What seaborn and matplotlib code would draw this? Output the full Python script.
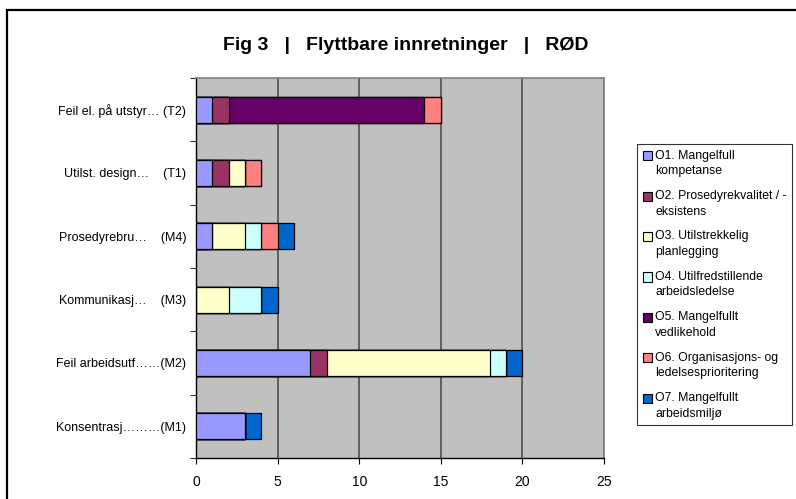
import matplotlib
matplotlib.use("Agg")
import matplotlib.pyplot as plt
from matplotlib.patches import Patch, Rectangle
from matplotlib.legend_handler import HandlerPatch
import numpy as np
import pandas as pd
import seaborn as sns

# Kategorier (ovenfra og ned) og serier
categories = ["Feil el. på utstyr… (T2)", "Utilst. design…    (T1)", "Prosedyrebru…    (M4)",
              "Kommunikasj…    (M3)", "Feil arbeidsutf……(M2)", "Konsentrasj………(M1)"]
series = ["O1. Mangelfull\nkompetanse", "O2. Prosedyrekvalitet / -\neksistens",
          "O3. Utilstrekkelig\nplanlegging", "O4. Utilfredstillende\narbeidsledelse",
          "O5. Mangelfullt\nvedlikehold", "O6. Organisasjons- og\nledelsesprioritering",
          "O7. Mangelfullt\narbeidsmiljø"]
colors = ["#9999FF", "#993366", "#FFFFCC", "#CCFFFF", "#660066", "#FF8080", "#0066CC"]

o1 = [1, 1, 1, 0, 7, 3]
o2 = [1, 1, 0, 0, 1, 0]
o3 = [0, 1, 2, 2, 10, 0]
o4 = [0, 0, 1, 2, 1, 0]
o5 = [12, 0, 0, 0, 0, 0]
o6 = [1, 1, 1, 0, 0, 0]
o7 = [0, 0, 1, 1, 1, 1]
values = [o1, o2, o3, o4, o5, o6, o7]

xticks = [0, 5, 10, 15, 20, 25]

plt.rcParams["font.family"] = ["Liberation Sans", "DejaVu Sans"]

cum = np.cumsum(np.array(values), axis=0)

fig = plt.figure(figsize=(7.96, 4.99), dpi=100)
ax = fig.add_axes([196 / 796, 1 - 458 / 499, 408 / 796, 380 / 499])
ax.set_facecolor("#C0C0C0")

# stablede søyler: tegn kumulative summer bakfra
for i in range(len(series) - 1, -1, -1):
    df = pd.DataFrame({"cat": categories, "val": cum[i]})
    sns.barplot(data=df, x="val", y="cat", orient="h", color=colors[i], saturation=1,
                width=0.41, edgecolor="black", linewidth=0.9, ax=ax, zorder=3)

ax.set_xlim(0, 25)
ax.set_ylim(5.5, -0.5)
ax.set_xticks(xticks)
ax.set_xticklabels([str(t) for t in xticks], fontsize=10)
ax.set_xlabel("")
ax.set_ylabel("")
ax.tick_params(axis="y", which="major", length=0, labelsize=9, pad=7)
ax.set_yticks(np.arange(-0.5, 6, 1), minor=True)
ax.tick_params(axis="y", which="minor", length=4, direction="out", color="black")
ax.tick_params(axis="x", length=4, direction="out", pad=8)

ax.grid(axis="x", color="#505050", linewidth=1.2, zorder=1)
ax.set_axisbelow(True)
for s in ["top", "right"]:
    ax.spines[s].set_color("#808080")
    ax.spines[s].set_linewidth(1.2)
for s in ["left", "bottom"]:
    ax.spines[s].set_color("black")
    ax.spines[s].set_linewidth(1.0)

fig.text(406 / 796, 1 - 45 / 499, "Fig 3   |   Flyttbare innretninger   |   RØD",
         ha="center", va="center", fontsize=14, fontweight="bold")


# liten firkant øverst ved første tekstlinje
def top_square(legend, orig_handle, xdescent, ydescent, width, height, fontsize):
    s = width
    return Rectangle((-xdescent, -ydescent + height - s * 0.85), s, s)


handles = [Patch(facecolor=c, edgecolor="black", linewidth=0.8) for c in colors]
leg = fig.legend(handles, series, loc="upper left", bbox_to_anchor=(637 / 796, 1 - 144 / 499),
                 fontsize=8.8, frameon=True, fancybox=False, handlelength=0.75, handleheight=2.55,
                 handletextpad=0.3, labelspacing=1.05, borderpad=0.45, borderaxespad=0,
                 handler_map={Patch: HandlerPatch(patch_func=top_square)})
leg.get_frame().set_edgecolor("black")
leg.get_frame().set_linewidth(0.8)
for t in leg.get_texts():
    t.set_linespacing(1.4)

fig.patches.append(Rectangle((7 / 796, -0.1), 1.2, (499 - 10) / 499 + 0.1, fill=False,
                             edgecolor="black", linewidth=1.6, transform=fig.transFigure))

fig.savefig("out.png", dpi=100)
